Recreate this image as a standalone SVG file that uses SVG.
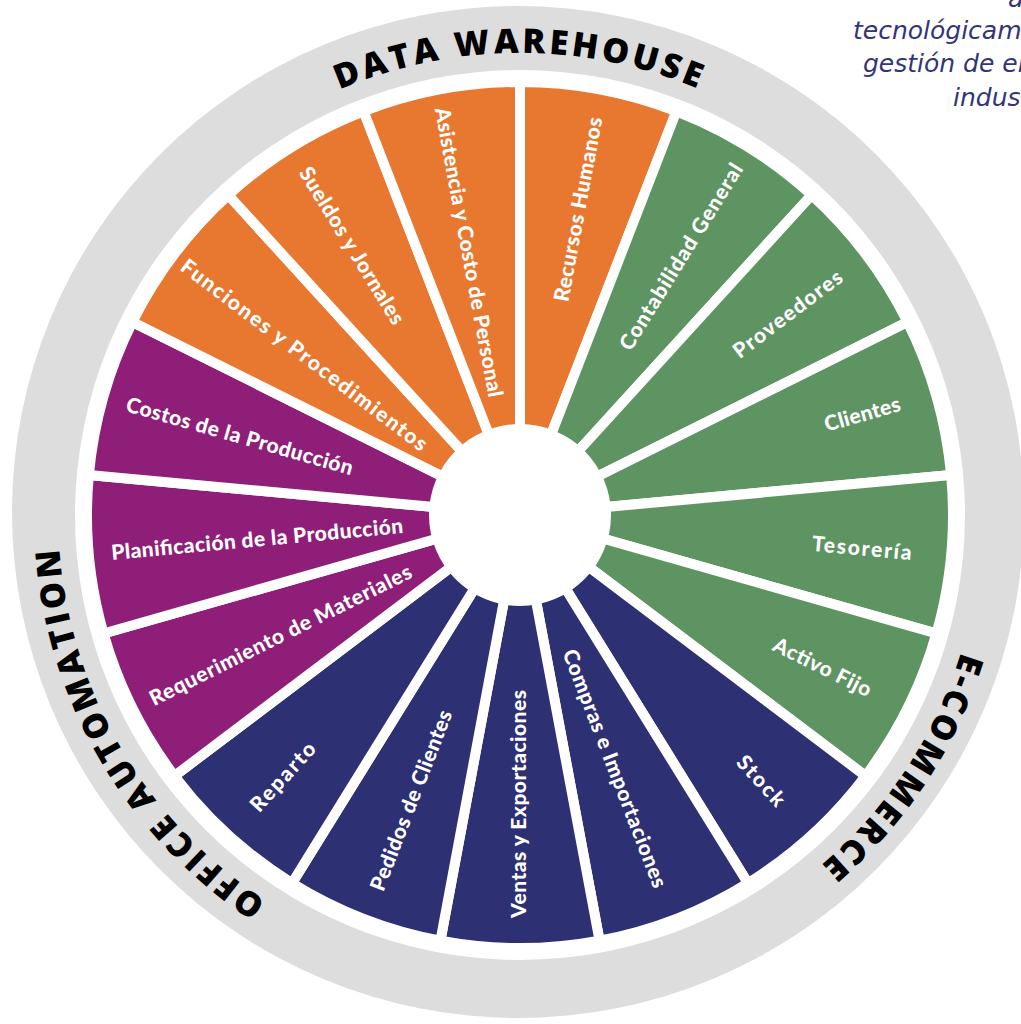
<svg xmlns="http://www.w3.org/2000/svg" width="1021" height="1024" viewBox="0 0 1021 1024">
<style>
.seg{stroke:#ffffff;stroke-width:10;stroke-linejoin:round}
.or{fill:#E87830}.gr{fill:#5E9462}.nv{fill:#2E3074}.pu{fill:#8E1E78}
.lbl{font-family:Lato,"Open Sans",sans-serif;font-weight:900;font-size:21px;fill:#ffffff;text-anchor:middle;dominant-baseline:central}
.ring{font-family:"Open Sans","DejaVu Sans",sans-serif;font-weight:800;font-size:34px;fill:#000000;letter-spacing:3.5px;text-anchor:middle}
.side{font-family:"DejaVu Sans",sans-serif;font-style:italic;font-size:25px;fill:#33347A}
</style>
<defs>
<path id="ringPath" d="M 58 515 A 462 462 0 1 1 982 515 A 462 462 0 1 1 58 515"/>
</defs>
<rect width="1021" height="1024" fill="#ffffff"/>
<g id="sidetext">
<text class="side" x="1008" y="7">a</text>
<text class="side" x="853" y="39">tecnológicam</text>
<text class="side" x="863" y="72">gestión de em</text>
<text class="side" x="953" y="106">indus</text>
</g>
<g id="ring">
<circle cx="518" cy="512" r="506" fill="#DDDDDD"/>
<circle cx="520" cy="515" r="445" fill="#ffffff"/>
<text class="ring"><textPath href="#ringPath" startOffset="25%">DATA WAREHOUSE</textPath></text>
<text class="ring"><textPath href="#ringPath" startOffset="59.3%">E-COMMERCE</textPath></text>
<text class="ring"><textPath href="#ringPath" startOffset="91.6%">OFFICE AUTOMATION</textPath></text>
</g>
<g id="seg-recursos-humanos"><path class="seg or" d="M520 515 L520 82 A433 433 0 0 1 676.42 111.24 Z"/><text class="lbl" transform="translate(577 209) rotate(-79.41)" textLength="187" lengthAdjust="spacing">Recursos Humanos</text></g>
<g id="seg-contabilidad-general"><path class="seg gr" d="M520 515 L676.42 111.24 A433 433 0 0 1 811.71 195 Z"/><text class="lbl" transform="translate(680 256) rotate(-58.24)" textLength="215" lengthAdjust="spacing">Contabilidad General</text></g>
<g id="seg-proveedores"><path class="seg gr" d="M520 515 L811.71 195 A433 433 0 0 1 907.6 321.99 Z"/><text class="lbl" transform="translate(787 313) rotate(-37.06)" textLength="131" lengthAdjust="spacing">Proveedores</text></g>
<g id="seg-clientes"><path class="seg gr" d="M520 515 L907.6 321.99 A433 433 0 0 1 951.15 475.05 Z"/><text class="lbl" transform="translate(862 413) rotate(-15.88)" textLength="78" lengthAdjust="spacing">Clientes</text></g>
<g id="seg-tesoreria"><path class="seg gr" d="M520 515 L951.15 475.05 A433 433 0 0 1 936.47 633.49 Z"/><text class="lbl" transform="translate(862 547) rotate(5.29)" textLength="100" lengthAdjust="spacing">Tesorería</text></g>
<g id="seg-activo-fijo"><path class="seg gr" d="M520 515 L936.47 633.49 A433 433 0 0 1 865.54 775.94 Z"/><text class="lbl" transform="translate(823 666) rotate(26.47)" textLength="107" lengthAdjust="spacing">Activo Fijo</text></g>
<g id="seg-stock"><path class="seg nv" d="M520 515 L865.54 775.94 A433 433 0 0 1 747.94 883.15 Z"/><text class="lbl" transform="translate(762 780) rotate(47.65)" textLength="61" lengthAdjust="spacing">Stock</text></g>
<g id="seg-compras"><path class="seg nv" d="M520 515 L747.94 883.15 A433 433 0 0 1 599.56 940.63 Z"/><text class="lbl" transform="translate(616 768) rotate(68.82)" textLength="254" lengthAdjust="spacing">Compras e Importaciones</text></g>
<g id="seg-ventas"><path class="seg nv" d="M520 515 L599.56 940.63 A433 433 0 0 1 440.44 940.63 Z"/><text class="lbl" transform="translate(517 804) rotate(-90)" textLength="228" lengthAdjust="spacing">Ventas y Exportaciones</text></g>
<g id="seg-pedidos"><path class="seg nv" d="M520 515 L440.44 940.63 A433 433 0 0 1 292.06 883.15 Z"/><text class="lbl" transform="translate(410 800) rotate(-68.82)" textLength="192" lengthAdjust="spacing">Pedidos de Clientes</text></g>
<g id="seg-reparto"><path class="seg nv" d="M520 515 L292.06 883.15 A433 433 0 0 1 174.46 775.94 Z"/><text class="lbl" transform="translate(282 776) rotate(-47.65)" textLength="86" lengthAdjust="spacing">Reparto</text></g>
<g id="seg-requerimiento"><path class="seg pu" d="M520 515 L174.46 775.94 A433 433 0 0 1 103.53 633.49 Z"/><text class="lbl" transform="translate(280 634) rotate(-26.47)" textLength="290" lengthAdjust="spacing">Requerimiento de Materiales</text></g>
<g id="seg-planificacion"><path class="seg pu" d="M520 515 L103.53 633.49 A433 433 0 0 1 88.85 475.05 Z"/><text class="lbl" transform="translate(257 538) rotate(-5.29)" textLength="293" lengthAdjust="spacing">Planificación de la Producción</text></g>
<g id="seg-costos"><path class="seg pu" d="M520 515 L88.85 475.05 A433 433 0 0 1 132.4 321.99 Z"/><text class="lbl" transform="translate(240 435) rotate(15.88)" textLength="235" lengthAdjust="spacing">Costos de la Producción</text></g>
<g id="seg-funciones"><path class="seg or" d="M520 515 L132.4 321.99 A433 433 0 0 1 228.29 195 Z"/><text class="lbl" transform="translate(305 354) rotate(37.06)" textLength="303" lengthAdjust="spacing">Funciones y Procedimientos</text></g>
<g id="seg-sueldos"><path class="seg or" d="M520 515 L228.29 195 A433 433 0 0 1 363.58 111.24 Z"/><text class="lbl" transform="translate(353 245) rotate(58.24)" textLength="181" lengthAdjust="spacing">Sueldos y Jornales</text></g>
<g id="seg-asistencia"><path class="seg or" d="M520 515 L363.58 111.24 A433 433 0 0 1 520 82 Z"/><text class="lbl" transform="translate(470 252) rotate(79.41)" textLength="294" lengthAdjust="spacing">Asistencia y Costo de Personal</text></g>
<g id="hub"><circle cx="520" cy="515" r="91" fill="#ffffff"/></g>
</svg>
